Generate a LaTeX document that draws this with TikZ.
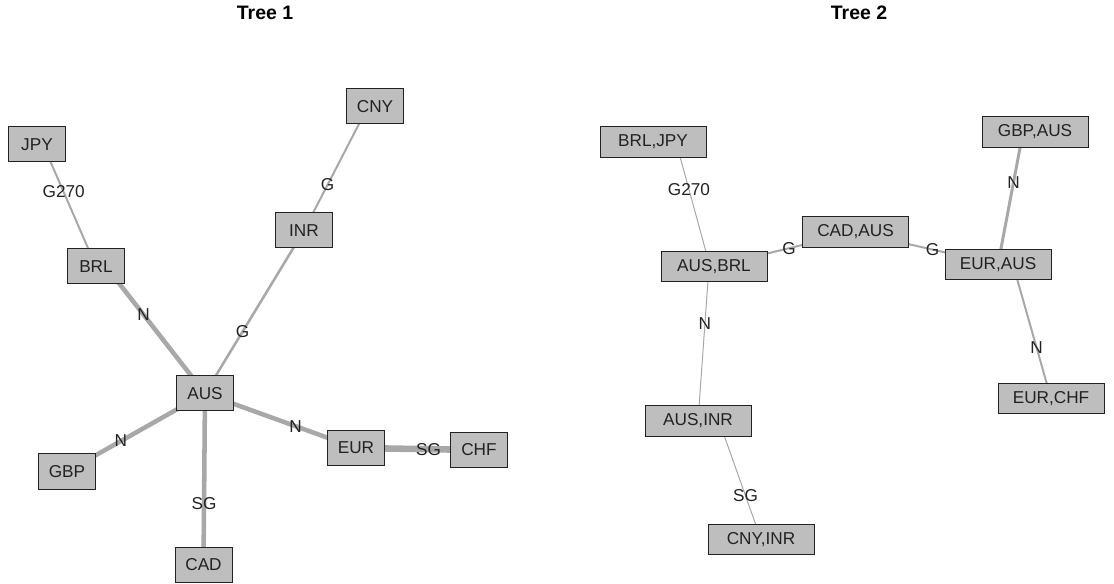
\documentclass[tikz,border=0pt]{standalone}
\usepackage{fontspec}
\setmainfont{Liberation Sans}
\usetikzlibrary{positioning,calc,backgrounds}
\definecolor{boxgray}{RGB}{190,190,190}
\definecolor{edgegray}{RGB}{168,168,168}
\definecolor{inkgray}{RGB}{34,34,34}

\begin{document}
\begin{tikzpicture}[x=0.75pt,y=-0.75pt,
  cur/.style={draw=inkgray,fill=boxgray,line width=0.75pt,inner sep=0pt,minimum width=42.75pt,minimum height=26.25pt,font=\fontsize{12.9}{14}\selectfont,text=inkgray},
  pair/.style={cur,minimum width=79.5pt,minimum height=22.9pt},
  link/.style={draw=edgegray,line width=#1},
  lab/.style={font=\fontsize{12.9}{14}\selectfont,text=inkgray,inner sep=0pt},
  title/.style={font=\bfseries\fontsize{14.6}{16}\selectfont,inner sep=0pt}]
\useasboundingbox (0,0) rectangle (1114,584);
\node[title] (t1) at (265,13) {Tree 1};
\node[title] (t2) at (859,13) {Tree 2};
\node[cur] (jpy) at (37,144.5) {JPY};
\node[cur] (brl) at (96,266.5) {BRL};
\node[cur] (cny) at (375,106.5) {CNY};
\node[cur] (inr) at (304,230.5) {INR};
\node[cur] (aus) at (205,393.5) {AUS};
\node[cur] (gbp) at (67,471.5) {GBP};
\node[cur] (cad) at (203.5,565) {CAD};
\node[cur] (eur) at (356,448) {EUR};
\node[cur] (chf) at (479,450) {CHF};
\node[pair] (bj) at (653,142) {BRL,JPY};
\node[pair] (ga) at (1035,132) {GBP,AUS};
\node[pair] (ca) at (855.5,232) {CAD,AUS};
\node[pair] (ab) at (714,266.5) {AUS,BRL};
\node[pair] (ea) at (998,264.5) {EUR,AUS};
\node[pair] (ai) at (698,421) {AUS,INR};
\node[pair] (ci) at (761,539.5) {CNY,INR};
\node[pair] (ec) at (1051,398.5) {EUR,CHF};
\begin{pgfonlayer}{background}
\draw[link=1.5pt] ($(jpy)+(6,0)$) -- (brl.center) node[lab,pos=0.39] {G270};
\draw[link=3.4pt] ($(brl)+(10,0)$) -- (aus.center) node[lab,pos=0.38] {N};
\draw[link=1.5pt] (inr.center) -- ($(cny)+(-7,0)$) node[lab,pos=0.37] {G};
\draw[link=1.9pt] (aus.center) -- (inr.center) node[lab,pos=0.38] {G};
\draw[link=3.4pt] (aus.center) -- (gbp.center) node[lab,pos=0.61] {N};
\draw[link=3.4pt] (aus.center) -- (cad.center) node[lab,pos=0.64] {SG};
\draw[link=3.4pt] (aus.center) -- (eur.center) node[lab,pos=0.6] {N};
\draw[link=4.9pt] (eur.center) -- (chf.center) node[lab,pos=0.59] {SG};
\draw[link=0.75pt] ($(bj)+(23,0)$) -- ($(ab)+(-4,0)$) node[lab,pos=0.38] {G270};
\draw[link=1.5pt] (ab.center) -- (ca.center) node[lab,pos=0.53] {G};
\draw[link=1.5pt] (ca.center) -- (ea.center) node[lab,pos=0.54] {G};
\draw[link=2.25pt] ($(ga)+(-12,0)$) -- (ea.center) node[lab,pos=0.38] {N};
\draw[link=1.5pt] ($(ea)+(15,0)$) -- (ec.center) node[lab,pos=0.62] {N};
\draw[link=0.75pt] ($(ab)+(-5,0)$) -- (ai.center) node[lab,pos=0.37] {N};
\draw[link=0.75pt] ($(ai)+(21,0)$) -- (ci.center) node[lab,pos=0.63] {SG};
\end{pgfonlayer}
\end{tikzpicture}
\end{document}
